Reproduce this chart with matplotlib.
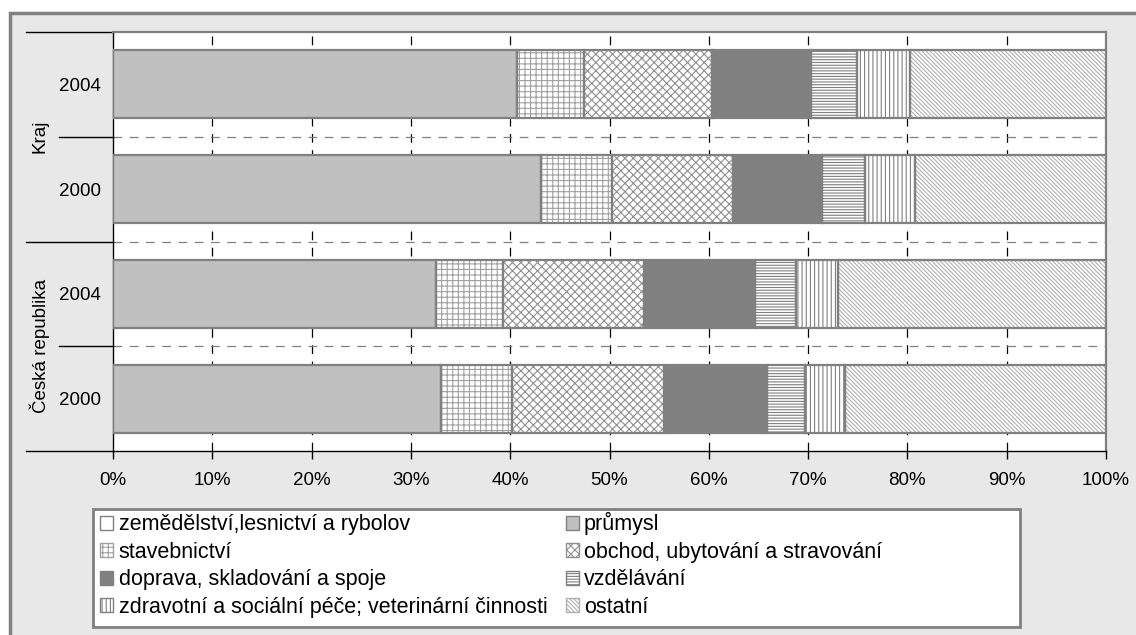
import numpy as np
import matplotlib
matplotlib.use("Agg")
import matplotlib.pyplot as plt
from matplotlib.patches import Patch, Rectangle
from matplotlib.transforms import blended_transform_factory

plt.rcParams['font.family'] = ['Liberation Sans', 'DejaVu Sans']
plt.rcParams['hatch.linewidth'] = 0.8

# data (shares in %), bars from bottom to top
groups = ['Česká republika', 'Kraj']
years = ['2000', '2004', '2000', '2004']
sectors = ['zemědělství,lesnictví a rybolov', 'průmysl', 'stavebnictví',
           'obchod, ubytování a stravování', 'doprava, skladování a spoje',
           'vzdělávání', 'zdravotní a sociální péče; veterinární činnosti',
           'ostatní']
zemedelstvi = [0.0, 0.0, 0.0, 0.0]
prumysl = [33.0, 32.5, 43.1, 40.7]
stavebnictvi = [7.2, 6.8, 7.2, 6.7]
obchod = [15.3, 14.2, 12.1, 12.9]
doprava = [10.4, 11.2, 9.0, 10.0]
vzdelavani = [3.8, 4.1, 4.3, 4.6]
zdravotni = [4.0, 4.2, 5.1, 5.4]
ostatni = [26.3, 27.0, 19.2, 19.7]

values = [zemedelstvi, prumysl, stavebnictvi, obchod, doprava,
          vzdelavani, zdravotni, ostatni]
# (face, hatch, hatch colour)
styles = [('white', None, '#808080'),
          ('#c0c0c0', None, '#c0c0c0'),
          ('white', '+++', '#a0a0a0'),
          ('white', 'xxxx', '#909090'),
          ('#808080', None, '#808080'),
          ('white', '------', '#808080'),
          ('white', '||||', '#808080'),
          ('white', '\\\\\\\\\\\\\\\\', '#b0b0b0')]

fig = plt.figure(figsize=(11.36, 6.35), dpi=100)
fig.patch.set_facecolor('white')
fig.patches.append(Rectangle((10 / 1136, -0.05), 1.1, 1 - 13 / 635 + 0.05,
                             transform=fig.transFigure, facecolor='#e8e8e8',
                             edgecolor='#808080', linewidth=2.5, zorder=-5))

ax = fig.add_axes([113 / 1136, 1 - 451 / 635, 993 / 1136, 419 / 635])
ax.set_facecolor('white')

y = np.arange(len(years))
left = np.zeros(len(years))
for vals, (fc, h, hc) in zip(values, styles):
    vals = np.array(vals)
    ax.barh(y, vals, left=left, height=0.65, color=fc, hatch=h,
            edgecolor=hc, linewidth=0, zorder=3)
    ax.barh(y, vals, left=left, height=0.65, fill=False,
            edgecolor='#808080', linewidth=1.6, zorder=4)
    left = left + vals

ax.set_xlim(0, 100)
ax.set_ylim(-0.5, 3.5)
ax.set_xticks(np.arange(0, 101, 10))
ax.set_xticklabels([f'{v}%' for v in range(0, 101, 10)], fontsize=13.5)
ax.set_yticks(y)
ax.set_yticklabels(years, fontsize=13.5)
ax.tick_params(axis='y', length=0, pad=9)
ax.tick_params(axis='x', length=6, width=1, pad=9, color='black')

for xv in range(10, 100, 10):
    ax.axvline(xv, color='black', lw=0.9, ls=(0, (7, 6)), zorder=1)
for yv in [0.5, 1.5, 2.5]:
    ax.axhline(yv, color='#808080', lw=0.9, ls=(0, (7, 6)), zorder=1)

for s in ['top', 'right']:
    ax.spines[s].set_color('#808080')
    ax.spines[s].set_linewidth(1.6)
for s in ['left', 'bottom']:
    ax.spines[s].set_color('black')
    ax.spines[s].set_linewidth(1.0)

# group separators on the category axis
tr = blended_transform_factory(ax.transAxes, ax.transData)
for yv in [-0.5, 1.5, 3.5]:
    ax.plot([-0.0876, 0], [yv, yv], color='black', lw=1.0, transform=tr,
            clip_on=False)
for yv in [0.5, 2.5]:
    ax.plot([-0.0544, 0], [yv, yv], color='black', lw=1.0, transform=tr,
            clip_on=False)
for i, g in enumerate(groups):
    ax.text(-0.0735, 2 * i + 0.5, g, rotation=90, ha='center', va='center',
            fontsize=13.5, transform=tr)

# legend
handles = [Patch(facecolor=fc, hatch=h, edgecolor=hc if h else '#808080',
                 linewidth=1.0) for fc, h, hc in styles]
order = [0, 2, 4, 6, 1, 3, 5, 7]
leg = fig.legend([handles[i] for i in order], [sectors[i] for i in order],
                 ncol=2, loc='upper left',
                 bbox_to_anchor=(96 / 1136, 1 - 508 / 635), frameon=False,
                 fontsize=15.5, handlelength=0.6, handleheight=0.6,
                 handletextpad=0.25, labelspacing=0.3, columnspacing=0.85,
                 borderpad=0.2, borderaxespad=0)
fig.patches.append(Rectangle((93 / 1136, 1 - 627 / 635), 927 / 1136,
                             118 / 635, transform=fig.transFigure,
                             facecolor='white', edgecolor='#808080',
                             linewidth=2.0, zorder=-1))

fig.savefig('out.png', dpi=100, facecolor=fig.get_facecolor())
